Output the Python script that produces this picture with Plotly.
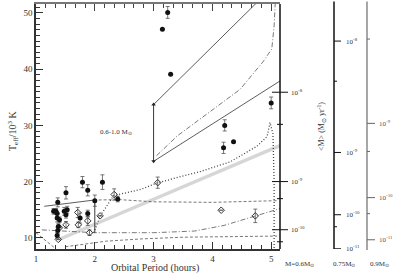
import plotly.graph_objects as go

# ---------------- data ----------------
# filled circles: period (h), Teff (10^3 K), error
filled_x = [3.24, 3.15, 3.29, 5.00, 4.21, 4.19, 4.36, 1.79, 1.88, 2.13, 1.51, 1.37,
            1.30, 1.34, 1.36, 1.36, 1.40, 1.38, 1.37, 1.36, 1.48, 1.53, 1.51, 1.75,
            2.00, 2.39, 1.88]
filled_y = [50.1, 47.1, 39.1, 34.0, 30.0, 26.0, 27.1, 19.9, 18.45, 19.9, 18.0, 16.3,
            14.7, 14.7, 14.3, 13.5, 13.2, 12.0, 11.3, 10.4, 14.7, 15.0, 14.1, 13.5,
            16.6, 16.9, 14.3]
filled_e = [1.05, 0, 0, 1.05, 1.0, 1.0, 0, 1.0, 1.0, 1.3, 1.1, 0.8,
            0.5, 0.5, 0, 0.7, 0.5, 0.5, 0.6, 0.5, 0.7, 0.6, 0.6, 0.9,
            1.0, 0.5, 0.6]

# open diamonds
open_x = [1.71, 1.88, 2.09, 1.91, 1.72, 1.51, 1.40, 1.38, 2.33, 3.07, 4.15, 4.73]
open_y = [14.5, 13.0, 13.9, 10.9, 12.3, 12.3, 11.8, 9.7, 17.7, 19.8, 14.9, 13.9]
open_e = [0.9, 0.8, 0, 0.5, 0.5, 0.6, 0, 0, 1.0, 1.0, 0, 1.2]

# model curves
solid_up_x = [3.0, 4.78]
solid_up_y = [33.7, 52.1]
solid_lo_x = [3.0, 5.15]
solid_lo_y = [23.6, 37.9]
dashdot_up_x = [3.05, 3.40, 4.47, 4.86, 5.01, 5.05, 5.07]
dashdot_up_y = [24.6, 28.1, 36.4, 41.3, 43.6, 47.7, 52.0]
dotted_x = [1.98, 2.10, 2.32, 2.78, 3.07, 3.80, 4.30, 4.76, 4.93, 4.98, 5.03, 5.05, 5.05]
dotted_y = [10.9, 14.0, 17.5, 18.6, 19.8, 21.8, 23.5, 26.3, 28.0, 30.5, 28.5, 20.0, 8.0]
gray_x = [1.37, 5.15]
gray_y = [9.6, 26.4]
solid_mid_x = [1.14, 1.98]
solid_mid_y = [15.6, 16.7]
dashed_mid_x = [1.98, 2.4, 3.0, 4.0, 5.1]
dashed_mid_y = [16.7, 16.8, 16.4, 16.3, 16.6]
dd_low_x = [1.10, 2.0, 3.0, 3.7, 4.2, 4.73, 5.15]
dd_low_y = [11.4, 10.9, 10.9, 11.2, 12.2, 13.9, 15.2]
dash_low_x = [1.5, 2.2, 2.8, 3.5, 5.1]
dash_low_y = [8.4, 9.4, 9.8, 10.1, 10.3]
diag_x = [1.0, 1.34]
diag_y = [10.9, 8.0]
vline2_x = [2.0, 2.0]
vline2_y = [16.6, 10.9]

# range arrow at P = 3 h
arrow_x = 3.0
arrow_top = 33.7
arrow_bot = 23.6

# accretion-rate scales (tick positions in Teff units)
ax1_major = [35.9, 20.0, 11.43]
ax1_labels = ["10<sup>-8</sup>", "10<sup>-9</sup>", "10<sup>-10</sup>"]
ax1_minor = [30.18, 16.96, 9.29]
ax2_major = [45.0, 25.18, 14.1, 8.04]
ax2_labels = ["10<sup>-8</sup>", "10<sup>-9</sup>", "10<sup>-10</sup>", "10<sup>-11</sup>"]
ax2_minor = [37.86, 11.96]
ax3_major = [30.36, 17.14, 9.64]
ax3_labels = ["10<sup>-9</sup>", "10<sup>-10</sup>", "10<sup>-11</sup>"]
ax3_minor = [45.36, 25.36, 14.29]

XR = [1.0, 5.15]
YR = [8.0, 51.6]
FONT = "Liberation Serif"

DASH = "3px,2px"
DASHDOT = "5px,2px,1px,2px"
DOT = "1px,2px"

fig = go.Figure()

def line(x, y, dash="solid", color="#333", width=0.8):
    fig.add_trace(go.Scatter(x=x, y=y, mode="lines",
                             line=dict(color=color, width=width, dash=dash),
                             hoverinfo="skip", showlegend=False))

line(gray_x, gray_y, color="#d6d6d6", width=3.5)
line(solid_up_x, solid_up_y, width=0.8)
line(solid_lo_x, solid_lo_y, width=0.8)
line(dashdot_up_x, dashdot_up_y, dash=DASHDOT, width=0.8, color="#555")
line(dotted_x, dotted_y, dash=DOT, width=1.3, color="#444")
line(solid_mid_x, solid_mid_y, width=0.8)
line(dashed_mid_x, dashed_mid_y, dash=DASH, width=0.8, color="#555")
line(dd_low_x, dd_low_y, dash=DASHDOT, width=0.8, color="#555")
line(dash_low_x, dash_low_y, dash=DASH, width=0.8, color="#555")
line(diag_x, diag_y, dash=DASH, width=0.8, color="#555")
line(vline2_x, vline2_y, width=0.9, color="#222")
line([arrow_x, arrow_x], [arrow_bot, arrow_top], width=0.9, color="#222")

fig.add_trace(go.Scatter(
    x=open_x, y=open_y, mode="markers",
    marker=dict(symbol="diamond-open", size=5, color="#333", line=dict(width=1)),
    error_y=dict(type="data", array=open_e, color="#555", thickness=0.8, width=2),
    showlegend=False))
fig.add_trace(go.Scatter(
    x=filled_x, y=filled_y, mode="markers",
    marker=dict(symbol="circle", size=5, color="#111"),
    error_y=dict(type="data", array=filled_e, color="#555", thickness=0.8, width=2),
    showlegend=False))

# arrow heads
fig.add_trace(go.Scatter(x=[arrow_x, arrow_x], y=[arrow_top, arrow_bot], mode="markers",
                         marker=dict(symbol=["triangle-up", "triangle-down"], size=4, color="#222"),
                         showlegend=False, hoverinfo="skip"))

ann = []
shapes = []
L, W = 36, 244   # plot area left px and width
def px(p):
    return (p - L) / W

H = 245
def py(p):
    return (249 - p) / H

def label(x, y, text, size=7, color="#333", xanchor="left", yref="y", angle=0):
    ann.append(dict(xref="paper", yref=yref, x=x, y=y, text=text, showarrow=False,
                    xanchor=xanchor, yanchor="middle", textangle=angle,
                    font=dict(size=size, family=FONT, color=color)))

# main right-hand axis (M = 0.6)
shapes.append(dict(type="line", xref="paper", yref="paper", x0=1, x1=1, y0=0, y1=1,
                   line=dict(color="#111", width=1.5)))
for v, t in zip(ax1_major, ax1_labels):
    shapes.append(dict(type="line", xref="paper", yref="y", x0=px(272), x1=px(288), y0=v, y1=v,
                       line=dict(color="#111", width=1)))
    label(px(289), v, t)
for v in ax1_minor:
    shapes.append(dict(type="line", xref="paper", yref="y", x0=px(277), x1=px(283), y0=v, y1=v,
                       line=dict(color="#111", width=1)))

# second axis (0.75)
shapes.append(dict(type="line", xref="paper", yref="paper", x0=px(334), x1=px(334), y0=0, y1=1.01,
                   line=dict(color="#111", width=1.5)))
for v, t in zip(ax2_major, ax2_labels):
    shapes.append(dict(type="line", xref="paper", yref="y", x0=px(334), x1=px(341), y0=v, y1=v,
                       line=dict(color="#111", width=1)))
    label(px(344), v, t)
for v in ax2_minor:
    shapes.append(dict(type="line", xref="paper", yref="y", x0=px(334), x1=px(337), y0=v, y1=v,
                       line=dict(color="#111", width=1)))

# third axis (0.9)
shapes.append(dict(type="line", xref="paper", yref="paper", x0=px(367), x1=px(367), y0=-0.004, y1=1.01,
                   line=dict(color="#777", width=1.3)))
for v, t in zip(ax3_major, ax3_labels):
    shapes.append(dict(type="line", xref="paper", yref="y", x0=px(367), x1=px(375), y0=v, y1=v,
                       line=dict(color="#666", width=1)))
    label(px(377), v, t, color="#555")
for v in ax3_minor:
    shapes.append(dict(type="line", xref="paper", yref="y", x0=px(367), x1=px(370), y0=v, y1=v,
                       line=dict(color="#666", width=1)))

label(px(13), py(131), "T<sub>eff</sub>/10<sup>3</sup> K", size=10, xanchor="center", yref="paper", angle=-90)
label(px(155), py(268), "Orbital Period (hours)", size=10, xanchor="center", yref="paper")
label(px(321), py(127), "&lt;M&gt; (M<sub>⊙</sub> yr<sup>-1</sup>)", size=8, xanchor="center",
      yref="paper", angle=-90)
label(px(299), py(264), "M=0.6M<sub>⊙</sub>", xanchor="center", yref="paper")
label(px(344), py(264), "0.75M<sub>⊙</sub>", xanchor="center", yref="paper")
label(px(379), py(264), "0.9M<sub>⊙</sub>", xanchor="center", yref="paper")
ann.append(dict(xref="x", yref="y", x=2.36, y=28.9, text="0.6-1.0 M<sub>⊙</sub>",
                showarrow=False, font=dict(size=7, family=FONT, color="#333")))

fig.update_layout(
    width=410, height=276,
    margin=dict(l=36, r=130, t=4, b=27, autoexpand=False),
    paper_bgcolor="white", plot_bgcolor="white",
    annotations=ann, shapes=shapes,
    font=dict(family=FONT, size=9, color="#333"),
    xaxis=dict(range=XR, showgrid=False, zeroline=False, showline=True, linecolor="#333",
               linewidth=1.5, ticks="inside", ticklen=7, tickwidth=1, tickcolor="#333",
               tickvals=[1, 2, 3, 4, 5], ticktext=["1", "2", "3", "4", "5"], automargin=False,
               minor=dict(dtick=1/6, tick0=1, ticks="inside", ticklen=4, tickcolor="#333", showgrid=False),
               tickfont=dict(size=9, family=FONT), mirror=False),
    xaxis2=dict(range=XR, overlaying="x", side="top", showgrid=False, zeroline=False,
                showline=True, linecolor="#777", linewidth=1.5, ticks="inside", ticklen=7,
                tickcolor="#444", tickvals=[1, 2, 3, 4, 5], showticklabels=False, automargin=False,
                minor=dict(dtick=1/6, tick0=1, ticks="inside", ticklen=4, tickcolor="#444")),
    yaxis=dict(range=YR, showgrid=False, zeroline=False, showline=True, linecolor="#333",
               linewidth=1.5, ticks="inside", ticklen=7, tickwidth=1, tickcolor="#333",
               tickvals=[10, 20, 30, 40, 50], automargin=False,
               minor=dict(dtick=1, tick0=0, ticks="inside", ticklen=4, tickcolor="#333"),
               tickfont=dict(size=9, family=FONT)),
)
# dummy trace to activate the top axis
fig.add_trace(go.Scatter(x=[1], y=[8], xaxis="x2", mode="markers", marker=dict(opacity=0),
                         showlegend=False, hoverinfo="skip"))

fig.write_html("out.html", config={"displayModeBar": False},
               post_script="document.body.style.margin='0';")
